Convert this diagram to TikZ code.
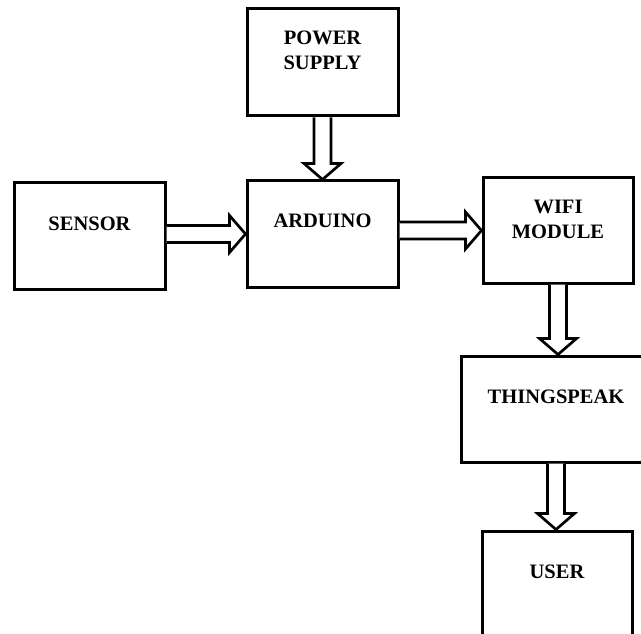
\documentclass[tikz,border=0pt]{standalone}
\usepackage{fontspec}
\setmainfont{Liberation Serif}
\usetikzlibrary{calc}
\tikzset{
  box/.style={draw=black, line width=3pt, fill=white, inner sep=0pt},
  lbl/.style={font=\fontsize{20.5}{25}\selectfont\bfseries, align=center, anchor=base, inner sep=0pt},
  blockarrow/.style={draw=black, line width=2.7pt, fill=white, line join=miter}
}
\newcommand\hblockarrow[2]{%
  \draw[blockarrow] ($(#1.east |- #2.west)+(0,-8.5)$) -- ($(#2.west)+(-16,-8.5)$) -- ($(#2.west)+(-16,-18.5)$) -- (#2.west) -- ($(#2.west)+(-16,18.5)$) -- ($(#2.west)+(-16,8.5)$) -- ($(#1.east |- #2.west)+(0,8.5)$);}
\newcommand\vblockarrow[2]{%
  \draw[blockarrow] ($(#1.south)+(-8.5,0)$) -- ($(#1.south |- #2.north)+(-8.5,-16)$) -- ($(#1.south |- #2.north)+(-18.5,-16)$) -- (#1.south |- #2.north) -- ($(#1.south |- #2.north)+(18.5,-16)$) -- ($(#1.south |- #2.north)+(8.5,-16)$) -- ($(#1.south)+(8.5,0)$);}
\begin{document}
\begin{tikzpicture}[x=1pt,y=-1pt]
\useasboundingbox (0,0) rectangle (641,634);
\clip (0,0) rectangle (641,634);
\fill[white] (0,0) rectangle (641,634);
% boxes
\node[box, minimum width=151pt, minimum height=107pt] (pw) at (322.5,62.5) {};
\node[box, minimum width=151pt, minimum height=106pt] (sen) at (89.5,236) {};
\node[box, minimum width=151pt, minimum height=106pt] (ard) at (322.5,234) {};
\node[box, minimum width=150pt, minimum height=105pt] (wifi) at (558,230.5) {};
\node[box, minimum width=190pt, minimum height=106pt] (ts) at (556,409) {};
\node[box, minimum width=150pt, minimum height=106pt] (user) at (557,584) {};
% labels
\node[lbl] (pwt) at (322.5,69.8) {POWER\\SUPPLY};
\node[lbl] (sent) at (89.5,230.3) {SENSOR};
\node[lbl] (ardt) at (322.5,227.8) {ARDUINO};
\node[lbl] (wifit) at (558,238.8) {WIFI\\MODULE};
\node[lbl] (tst) at (556,403.8) {THINGSPEAK};
\node[lbl] (usert) at (557,578.8) {USER};
% arrows
\vblockarrow{pw}{ard}
\hblockarrow{sen}{ard}
\hblockarrow{ard}{wifi}
\vblockarrow{wifi}{ts}
\vblockarrow{ts}{user}
\end{tikzpicture}
\end{document}
